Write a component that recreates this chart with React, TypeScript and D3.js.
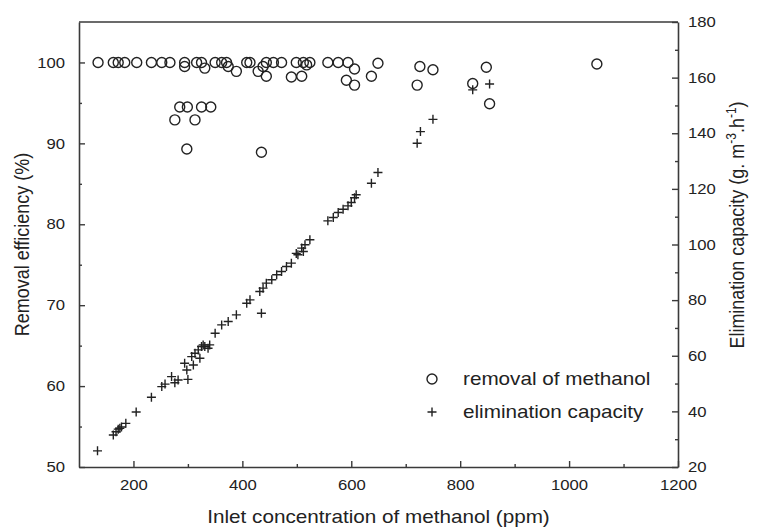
import React, { useEffect, useRef } from 'react';
import * as d3 from 'd3';

// removal efficiency (%) vs inlet concentration (ppm)  -> circles, left axis
const removalPpm = [135, 163, 172, 184, 206, 233, 252, 267, 294, 316, 325, 350, 362, 371, 408, 414, 444, 457, 472, 499, 512, 524, 557, 576, 594, 649,
  294, 331, 374, 389, 429, 438, 444, 490, 509, 518, 591, 606, 606, 637, 726, 750, 721, 848, 823, 854, 1051,
  276, 285, 299, 313, 325, 342, 298, 435];
const removalPct = [100, 100, 100, 100, 100, 100, 100, 100, 100, 100, 100, 100, 100, 100, 100, 100, 100, 100, 100, 100, 100, 100, 100, 100, 100, 99.9,
  99.5, 99.3, 99.5, 98.9, 98.9, 99.5, 98.3, 98.2, 98.3, 99.7, 97.8, 99.2, 97.2, 98.3, 99.5, 99.1, 97.2, 99.4, 97.4, 94.9, 99.8,
  92.9, 94.5, 94.5, 92.9, 94.5, 94.5, 89.3, 88.9];

// elimination capacity (g m-3 h-1) -> plus marks, right axis
const ecPpm = [134, 163, 168, 172, 175, 178, 186, 205, 233, 252, 258, 270, 276, 282, 294, 298, 300, 307, 310, 313,
  319, 322, 325, 328, 331, 337, 340, 350, 362, 374, 389, 408, 414, 432, 435, 438, 444, 454, 463, 472,
  481, 490, 499, 502, 509, 512, 515, 524, 557, 567, 576, 585, 594, 600, 606, 609, 637, 649, 721, 727, 750, 823, 854];
const ecValue = [25.8, 31.5, 32.7, 33.6, 33.9, 34.4, 35.7, 39.8, 45.1, 48.9, 49.8, 52.5, 50.3, 51.3, 57.3, 54.9, 51.5, 59.7, 56.7, 60.9,
  62.1, 59.1, 63.3, 63.9, 63.3, 62.7, 63.9, 68.1, 71.1, 72.3, 74.7, 78.9, 80.1, 83.1, 75.3, 84.3, 86.1, 87.3, 89.1, 90.3,
  92.1, 93.3, 96.8, 96.3, 98.7, 97.5, 99.9, 101.7, 108.5, 109.7, 111.5, 112.7, 113.9, 115.1, 116.8, 117.9, 122.0, 125.9, 136.4, 140.6, 145.0, 155.6, 157.7];

const xTicks = [200, 400, 600, 800, 1000, 1200];
const xMinor = [300, 500, 700, 900, 1100];
const leftTicks = [50, 60, 70, 80, 90, 100];
const leftMinor = [55, 65, 75, 85, 95];
const rightTicks = [20, 40, 60, 80, 100, 120, 140, 160, 180];
const rightMinor = [30, 50, 70, 90, 110, 130, 150, 170];

const W = 757, H = 528;
const margin = { top: 22, right: 79, bottom: 61, left: 79 };
const SX = 1.15; // the picture's text is a bit wide
const FONT = "'Liberation Sans', Arial, Helvetica, sans-serif";
const INK = '#222';

export default function App() {
  const xRef = useRef<SVGGElement>(null);
  const lRef = useRef<SVGGElement>(null);
  const rRef = useRef<SVGGElement>(null);

  const x = d3.scaleLinear().domain([100, 1200]).range([margin.left, W - margin.right]);
  const yL = d3.scaleLinear().domain([50, 105]).range([H - margin.bottom, margin.top]);
  const yR = d3.scaleLinear().domain([20, 180]).range([H - margin.bottom, margin.top]);

  useEffect(() => {
    const style = (g: any) => {
      g.attr('font-family', FONT).attr('font-size', 14.5);
      g.selectAll('path.domain').attr('stroke', '#3a3a3a').attr('stroke-width', 1.6);
      g.selectAll('.tick line').attr('stroke', '#3a3a3a').attr('stroke-width', 1.4);
      g.selectAll('.tick text').attr('fill', INK);
    };
    const noDomain = (g: any) => g.select('.domain').remove();

    const gx = d3.select(xRef.current);
    gx.selectAll('*').remove();
    gx.call(d3.axisBottom(x).tickValues(xTicks).tickSizeInner(-6).tickSizeOuter(0).tickFormat(d3.format('d')) as any);
    gx.append('g').call(d3.axisBottom(x).tickValues(xMinor).tickSizeInner(-3).tickSizeOuter(0).tickFormat(() => '') as any).call(noDomain);
    style(gx);
    gx.selectAll('.tick text').attr('y', 23).attr('dy', null).attr('transform', `scale(${SX},1)`);

    const gl = d3.select(lRef.current);
    gl.selectAll('*').remove();
    gl.call(d3.axisLeft(yL).tickValues(leftTicks).tickSizeInner(-6).tickSizeOuter(0).tickFormat(d3.format('d')) as any);
    gl.append('g').call(d3.axisLeft(yL).tickValues(leftMinor).tickSizeInner(-3).tickSizeOuter(0).tickFormat(() => '') as any).call(noDomain);
    style(gl);
    gl.selectAll('.tick text').attr('x', -14 / SX).attr('transform', `scale(${SX},1)`);

    const gr = d3.select(rRef.current);
    gr.selectAll('*').remove();
    gr.call(d3.axisRight(yR).tickValues(rightTicks).tickSizeInner(-6).tickSizeOuter(0).tickFormat(d3.format('d')) as any);
    gr.append('g').call(d3.axisRight(yR).tickValues(rightMinor).tickSizeInner(-3).tickSizeOuter(0).tickFormat(() => '') as any).call(noDomain);
    style(gr);
    gr.selectAll('.tick text').attr('x', 10 / SX).attr('transform', `scale(${SX},1)`);
  }, []);

  const plus = 'M-4.5,0H4.5M0,-4.5V4.5';
  const x0 = margin.left, x1 = W - margin.right;
  const cy = (margin.top + H - margin.bottom) / 2;

  return (
    <svg width={W} height={H} style={{ position: 'absolute', left: 0, top: 0, background: '#fff' }}>
      <line x1={x0} x2={x1} y1={margin.top} y2={margin.top} stroke="#3a3a3a" strokeWidth={1.6} />
      <g ref={xRef} transform={`translate(0,${H - margin.bottom})`} />
      <g ref={lRef} transform={`translate(${x0},0)`} />
      <g ref={rRef} transform={`translate(${x1},0)`} />

      <g fill="none" stroke={INK} strokeWidth={1.4}>
        {removalPpm.map((p, i) => (
          <circle key={'c' + i} cx={x(p)} cy={yL(removalPct[i])} r={5} />
        ))}
        {ecPpm.map((p, i) => (
          <path key={'p' + i} d={plus} transform={`translate(${x(p)},${yR(ecValue[i])})`} />
        ))}
      </g>

      {/* legend */}
      <g fontFamily={FONT} fontSize={18} fill={INK}>
        <circle cx={432} cy={379} r={5} fill="none" stroke={INK} strokeWidth={1.4} />
        <text transform={`translate(463,385) scale(${SX},1)`}>removal of methanol</text>
        <path d={plus} transform="translate(432,412)" fill="none" stroke={INK} strokeWidth={1.4} />
        <text transform={`translate(463,418) scale(${SX},1)`}>elimination capacity</text>
      </g>

      {/* axis titles */}
      <g fontFamily={FONT} fontSize={18} fill={INK} textAnchor="middle">
        <text transform={`translate(${(x0 + x1) / 2},523) scale(${SX},1)`}>Inlet concentration of methanol (ppm)</text>
        <text transform={`translate(29,${cy}) rotate(-90) scale(1,${SX})`}>Removal efficiency (%)</text>
        <text transform={`translate(744,225) rotate(-90) scale(1,${SX})`}>
          Elimination capacity (g. m<tspan dy={-7} fontSize={12}>-3</tspan>
          <tspan dy={7}>.h</tspan><tspan dy={-7} fontSize={12}>-1</tspan>
          <tspan dy={7}>)</tspan>
        </text>
      </g>
    </svg>
  );
}
